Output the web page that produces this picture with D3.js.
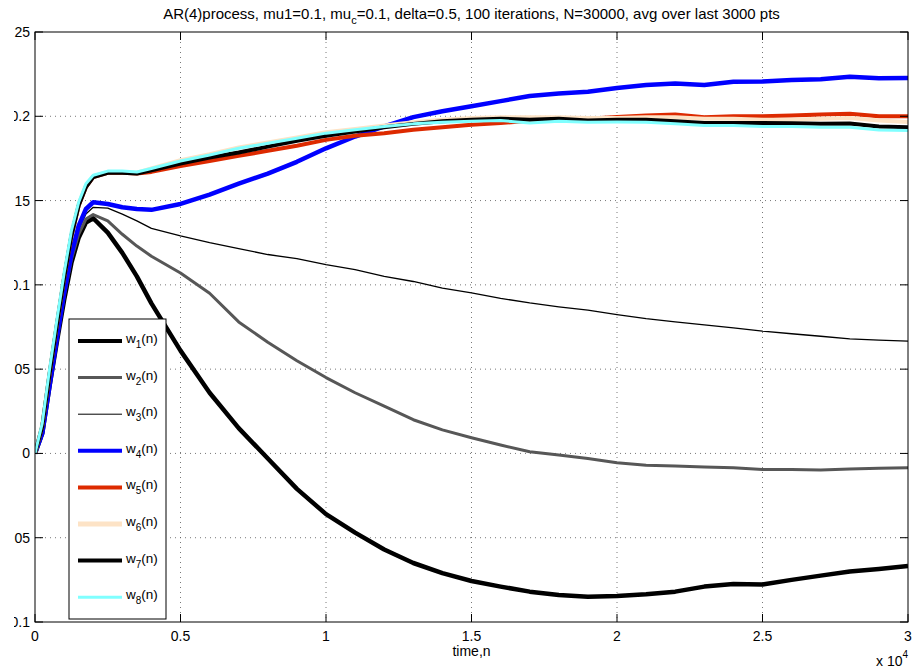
<!DOCTYPE html>
<html>
<head>
<meta charset="utf-8">
<script src="https://cdn.jsdelivr.net/npm/d3@7"></script>
<style>
  body { margin: 0; background: #fff; }
  svg { display: block; font-family: "Liberation Sans", Arial, sans-serif; }
</style>
</head>
<body>
<svg id="chart" width="912" height="668"></svg>
<script>
// sample times (n)
const times = [0, 250, 500, 750, 1000, 1250, 1500, 1750, 2000, 2500, 3000, 3500, 4000,
    5000, 6000, 7000, 8000, 9000, 10000, 11000, 12000, 13000, 14000, 15000, 16000, 17000,
    18000, 19000, 20000, 21000, 22000, 23000, 24000, 25000, 26000, 27000, 28000, 29000, 30000];

const w1 = [0, 0.012, 0.040, 0.066, 0.091, 0.113, 0.128, 0.137, 0.1395, 0.131, 0.119, 0.105, 0.089,
    0.061, 0.036, 0.015, -0.003, -0.021, -0.036, -0.047, -0.057, -0.065, -0.071, -0.0757, -0.079, -0.082,
    -0.084, -0.085, -0.0846, -0.0835, -0.082, -0.079, -0.0775, -0.0777, -0.075, -0.0725, -0.070, -0.0685, -0.0668];
const w2 = [0, 0.012, 0.040, 0.067, 0.093, 0.115, 0.130, 0.139, 0.1417, 0.138, 0.130, 0.123, 0.117,
    0.107, 0.095, 0.078, 0.066, 0.055, 0.045, 0.036, 0.028, 0.020, 0.014, 0.0093, 0.005, 0.001,
    -0.001, -0.003, -0.0055, -0.007, -0.0075, -0.008, -0.0085, -0.0095, -0.0095, -0.0098, -0.0092, -0.0088, -0.0085];
const w3 = [0, 0.012, 0.040, 0.068, 0.094, 0.117, 0.133, 0.142, 0.146, 0.1455, 0.142, 0.138, 0.1335,
    0.129, 0.125, 0.1215, 0.118, 0.1155, 0.112, 0.109, 0.105, 0.102, 0.098, 0.0953, 0.092, 0.0893,
    0.087, 0.085, 0.0824, 0.080, 0.078, 0.0762, 0.0745, 0.0725, 0.071, 0.0695, 0.068, 0.0672, 0.0666];
const w4 = [0, 0.012, 0.040, 0.068, 0.095, 0.118, 0.135, 0.145, 0.149, 0.148, 0.146, 0.145, 0.1445,
    0.148, 0.1535, 0.160, 0.166, 0.173, 0.181, 0.188, 0.194, 0.1995, 0.203, 0.206, 0.209, 0.212,
    0.2135, 0.2145, 0.2168, 0.2185, 0.2195, 0.2185, 0.2205, 0.2207, 0.2215, 0.222, 0.2235, 0.2225, 0.2227];
const w5 = [0, 0.016, 0.047, 0.076, 0.104, 0.129, 0.147, 0.158, 0.164, 0.1665, 0.1665, 0.166, 0.167,
    0.1705, 0.1735, 0.1765, 0.1795, 0.1825, 0.186, 0.1885, 0.190, 0.192, 0.1935, 0.195, 0.196, 0.1974,
    0.198, 0.1985, 0.1996, 0.2005, 0.201, 0.1995, 0.200, 0.200, 0.2005, 0.201, 0.2015, 0.200, 0.200];
const w6 = [0, 0.017, 0.048, 0.077, 0.105, 0.130, 0.148, 0.159, 0.1645, 0.167, 0.167, 0.1665, 0.169,
    0.174, 0.1775, 0.1815, 0.1845, 0.1875, 0.1905, 0.1925, 0.1945, 0.1965, 0.198, 0.199, 0.1995, 0.1995,
    0.1995, 0.199, 0.199, 0.1995, 0.1995, 0.1985, 0.1985, 0.198, 0.198, 0.1985, 0.199, 0.1975, 0.1966];
const w7 = [0, 0.016, 0.047, 0.076, 0.104, 0.129, 0.147, 0.158, 0.164, 0.1665, 0.1665, 0.166, 0.168,
    0.172, 0.1755, 0.1785, 0.182, 0.1855, 0.1885, 0.191, 0.1935, 0.1955, 0.197, 0.198, 0.1985, 0.198,
    0.1985, 0.1975, 0.198, 0.198, 0.197, 0.196, 0.196, 0.196, 0.1958, 0.1955, 0.1957, 0.194, 0.1935];
const w8 = [0, 0.018, 0.050, 0.079, 0.107, 0.132, 0.149, 0.160, 0.165, 0.1675, 0.1675, 0.167, 0.169,
    0.1735, 0.177, 0.181, 0.184, 0.187, 0.190, 0.192, 0.194, 0.1955, 0.1965, 0.197, 0.1975, 0.196,
    0.197, 0.1965, 0.1966, 0.1965, 0.1955, 0.1945, 0.1945, 0.194, 0.194, 0.1935, 0.1935, 0.1918, 0.1915];

const seriesNames = ["1", "2", "3", "4", "5", "6", "7", "8"];
const seriesValues = [w1, w2, w3, w4, w5, w6, w7, w8];
const seriesColors = ["#000000", "#575757", "#000000", "#0000ff", "#dd2a00", "#fde3c6", "#000000", "#80ffff"];
const seriesWidths = [4.5, 3, 1.3, 4.5, 4, 4, 4, 3];
const legendWidths = [4, 3, 1, 4, 4, 5, 4, 3];

const xTicks = [0, 5000, 10000, 15000, 20000, 25000, 30000];
const yTicks = [-0.1, -0.05, 0, 0.05, 0.1, 0.15, 0.2, 0.25];

const margin = { top: 32, right: 4, bottom: 46, left: 35 };
const width = 912, height = 668;

const svg = d3.select("#chart");

const x = d3.scaleLinear().domain([0, 30000]).range([margin.left, width - margin.right]);
const y = d3.scaleLinear().domain([-0.1, 0.25]).range([height - margin.bottom, margin.top]);

const x0 = x.range()[0], x1 = x.range()[1];
const y0 = y.range()[1], y1 = y.range()[0];

const defs = svg.append("defs");
defs.append("clipPath").attr("id", "plotclip")
    .append("rect")
    .attr("x", x0).attr("y", y0)
    .attr("width", x1 - x0).attr("height", y1 - y0);
// the original figure is cropped a little on the left, cutting the y labels
defs.append("clipPath").attr("id", "leftcrop")
    .append("rect")
    .attr("x", 14).attr("y", 0)
    .attr("width", width).attr("height", height);

// grid (dotted)
const grid = svg.append("g");
grid.selectAll(".gx")
    .data(xTicks.slice(1, -1))
    .enter().append("line")
    .attr("x1", d => x(d)).attr("x2", d => x(d))
    .attr("y1", y0).attr("y2", y1)
    .attr("stroke", "#555").attr("stroke-width", 0.8)
    .attr("stroke-dasharray", "1,4");
grid.selectAll(".gy")
    .data(yTicks.slice(1, -1))
    .enter().append("line")
    .attr("x1", x0).attr("x2", x1)
    .attr("y1", d => y(d)).attr("y2", d => y(d))
    .attr("stroke", "#555").attr("stroke-width", 0.8)
    .attr("stroke-dasharray", "1,4");

// series
const line = d3.line()
    .x((d, i) => x(times[i]))
    .y(d => y(d));

const plotG = svg.append("g").attr("clip-path", "url(#plotclip)");
seriesValues.forEach((vals, k) => {
    plotG.append("path")
        .datum(vals)
        .attr("d", line)
        .attr("fill", "none")
        .attr("stroke", seriesColors[k])
        .attr("stroke-width", seriesWidths[k])
        .attr("stroke-linejoin", "round");
});

// axes box
svg.append("rect")
    .attr("x", x0).attr("y", y0)
    .attr("width", x1 - x0).attr("height", y1 - y0)
    .attr("fill", "none").attr("stroke", "#000").attr("stroke-width", 1);

// inward ticks on all sides
const tickLen = 8;
const tg = svg.append("g").attr("stroke", "#000").attr("stroke-width", 1);
xTicks.forEach(t => {
    tg.append("line").attr("x1", x(t)).attr("x2", x(t)).attr("y1", y1).attr("y2", y1 - tickLen);
    tg.append("line").attr("x1", x(t)).attr("x2", x(t)).attr("y1", y0).attr("y2", y0 + tickLen);
});
yTicks.forEach(t => {
    tg.append("line").attr("x1", x0).attr("x2", x0 + tickLen).attr("y1", y(t)).attr("y2", y(t));
    tg.append("line").attr("x1", x1).attr("x2", x1 - tickLen).attr("y1", y(t)).attr("y2", y(t));
});

// tick labels
svg.selectAll(".xl")
    .data(xTicks)
    .enter().append("text")
    .attr("x", d => x(d))
    .attr("y", y1 + 19)
    .attr("text-anchor", "middle")
    .style("font-size", "14px")
    .text(d => d3.format("~g")(d / 10000));

svg.append("g").attr("clip-path", "url(#leftcrop)")
    .selectAll(".yl")
    .data(yTicks)
    .enter().append("text")
    .attr("x", x0 - 5)
    .attr("y", d => y(d))
    .attr("dy", "0.36em")
    .attr("text-anchor", "end")
    .style("font-size", "14px")
    .text(d => d3.format("~g")(d));

// exponent
const expText = svg.append("text")
    .attr("x", 876).attr("y", 666)
    .style("font-size", "14px");
expText.append("tspan").text("x 10");
expText.append("tspan").attr("dy", -8).style("font-size", "10px").text("4");

// x label
svg.append("text")
    .attr("x", (x0 + x1) / 2).attr("y", 656)
    .attr("text-anchor", "middle")
    .style("font-size", "14px")
    .text("time,n");

// title
const title = svg.append("text")
    .attr("x", (x0 + x1) / 2).attr("y", 19)
    .attr("text-anchor", "middle")
    .style("font-size", "15px");
title.append("tspan").text("AR(4)process, mu1=0.1, mu");
title.append("tspan").attr("dy", 5).style("font-size", "11px").text("c");
title.append("tspan").attr("dy", -5).text("=0.1, delta=0.5, 100 iterations, N=30000, avg over last 3000 pts");

// legend
const legX = 69, legY = 319, legW = 97, legH = 300, rowH = 36.6;
const legend = svg.append("g");
legend.append("rect")
    .attr("x", legX).attr("y", legY)
    .attr("width", legW).attr("height", legH)
    .attr("fill", "#fff").attr("stroke", "#000").attr("stroke-width", 1);

seriesNames.forEach((name, k) => {
    const ry = legY + 22 + k * rowH;
    legend.append("line")
        .attr("x1", legX + 9).attr("x2", legX + 53)
        .attr("y1", ry).attr("y2", ry)
        .attr("stroke", seriesColors[k])
        .attr("stroke-width", legendWidths[k]);
    const t = legend.append("text")
        .attr("x", legX + 57).attr("y", ry + 2)
        .style("font-size", "13.5px");
    t.append("tspan").text("w");
    t.append("tspan").attr("dy", 5).style("font-size", "10px").text(name);
    t.append("tspan").attr("dy", -5).text("(n)");
});
</script>
</body>
</html>
